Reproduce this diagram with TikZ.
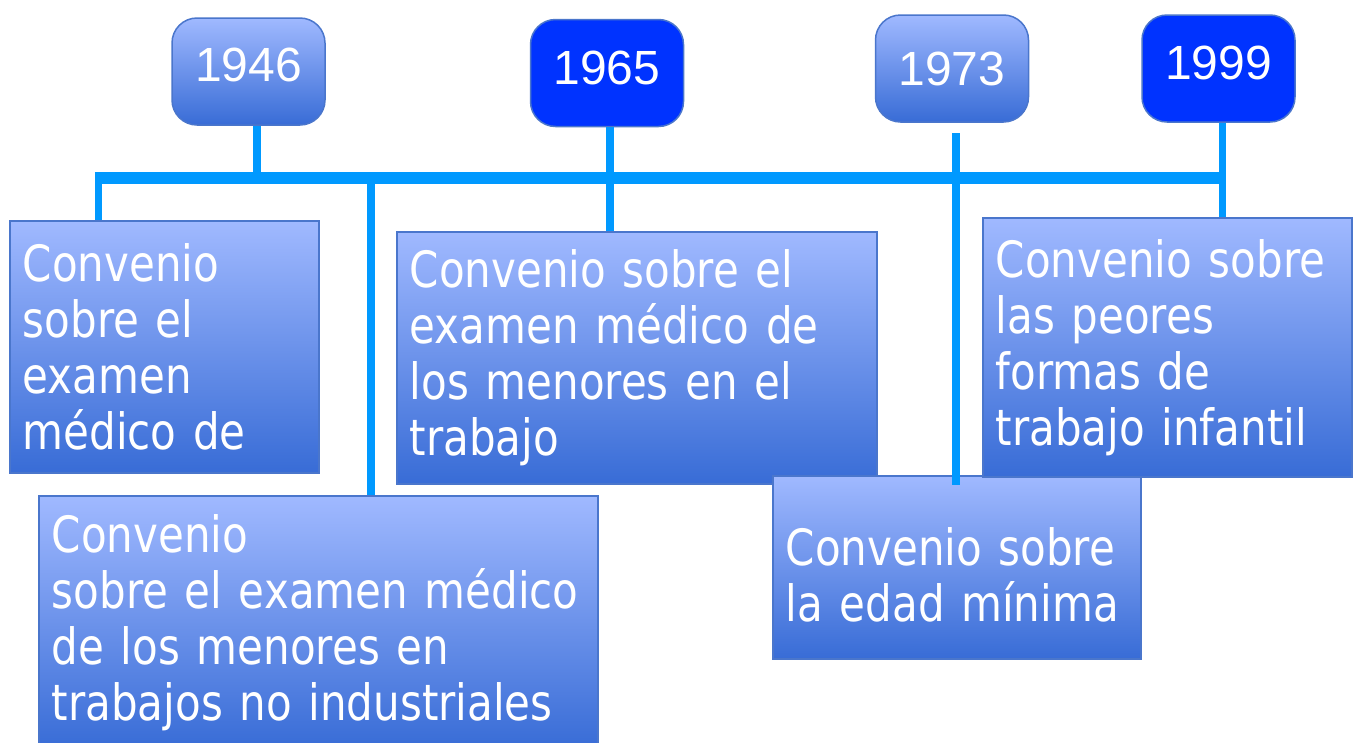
\documentclass[tikz,border=0pt]{standalone}
\usepackage{fontspec}
\setmainfont{DejaVu Sans}[FakeStretch=0.84]
\newfontfamily\yearfont{Liberation Sans}
\definecolor{boxtop}{RGB}{160,185,255}
\definecolor{boxbot}{RGB}{56,108,214}
\definecolor{boxline}{RGB}{74,118,204}
\definecolor{hotblue}{RGB}{0,51,255}
\definecolor{linkblue}{RGB}{0,153,255}
\begin{document}
\begin{tikzpicture}[x=1pt,y=-1pt,
  axis/.style={draw=linkblue, line width=12pt},
  link/.style={draw=linkblue, line width=7.5pt},
  yearbase/.style={draw=boxline, line width=1.5pt, rounded corners=25pt, text=white,
    minimum width=153pt, minimum height=107pt, inner sep=0pt,
    font=\yearfont\fontsize{48}{48}\selectfont},
  yearsoft/.style={yearbase, top color=boxtop, bottom color=boxbot},
  yearhot/.style={yearbase, fill=hotblue},
  textbox/.style={draw=boxline, line width=1.5pt, top color=boxtop, bottom color=boxbot,
    text=white, anchor=north west, align=left, inner xsep=13pt, inner ysep=0pt,
    font=\fontsize{50}{56}\selectfont}]
\path[fill=white, use as bounding box] (0,0) rectangle (1354,742);
% years
\node[yearsoft] (y1946) at (248.5,71.5) {\raisebox{13pt}{1946}};
\node[yearhot] (y1965) at (607,73) {\raisebox{10pt}{1965}};
\node[yearsoft] (y1973) at (952,68.5) {\raisebox{-3pt}{1973}};
\node[yearhot] (y1999) at (1218.5,68.5) {\raisebox{12pt}{1999}};
% conventions
\node[textbox, minimum width=309pt, minimum height=252pt, text width=283pt] (c1946a) at (9,220)
  {Convenio\\sobre el\\examen\\médico de};
\node[textbox, minimum width=559pt, minimum height=253pt, text width=533pt] (c1946b) at (38,495)
  {Convenio\\sobre el examen médico\\de los menores en\\trabajos no industriales};
\node[textbox, minimum width=480pt, minimum height=252pt, text width=454pt] (c1965) at (396,231)
  {Convenio sobre el\\examen médico de\\los menores en el\\trabajo};
\node[textbox, minimum width=368pt, minimum height=183pt, text width=342pt] (c1973) at (772,475)
  {\rule{0pt}{54pt}Convenio sobre\\la edad mínima};
\node[textbox, minimum width=369pt, minimum height=259pt, text width=343pt] (c1999) at (982,217)
  {Convenio sobre\\las peores\\formas de\\trabajo infantil};
% timeline
\coordinate (tl) at (98.5,178);
\coordinate (tr) at (1222.5,178);
\draw[axis, shorten <=-3.75pt, shorten >=-3.75pt] (tl) -- (tr);
\draw[link] (tl) -- (tl |- c1946a.north);
\draw[link] (tr |- y1999.south) -- (tr |- c1999.north);
\coordinate (k1946) at (257,178);
\draw[link] (k1946 |- y1946.south) -- (k1946);
\coordinate (k1946b) at (371,178);
\draw[link] (k1946b) -- (k1946b |- c1946b.north);
\coordinate (k1965) at (610,178);
\draw[link] (k1965 |- y1965.south) -- (k1965 |- c1965.north);
\coordinate (t1973) at (956,133);
\coordinate (b1973) at (956,485);
\draw[link] (t1973) -- (b1973);
\end{tikzpicture}
\end{document}
